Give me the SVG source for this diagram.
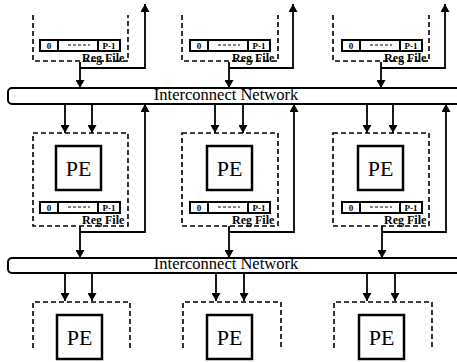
<svg xmlns="http://www.w3.org/2000/svg" width="457" height="362" viewBox="0 0 457 362">
<style>
.dash{fill:none;stroke:#000;stroke-width:1.6;stroke-dasharray:5,3}
.pe{fill:#fff;stroke:#000;stroke-width:2.5}
.rf{fill:#fff;stroke:#000;stroke-width:2}
.net{fill:#fff;stroke:#000;stroke-width:2}
.ln{fill:none;stroke:#000;stroke-width:1.8}
.t{font-family:"Liberation Serif",serif;fill:#000}
.pet{font-size:22px;text-anchor:middle}
.rt{font-size:9px;font-weight:bold;text-anchor:middle}
.rl{font-size:12px;font-weight:bold}
.nt{font-size:16.5px;text-anchor:middle}
</style>
<defs>
<marker id="ah" markerUnits="userSpaceOnUse" markerWidth="8" markerHeight="9" refX="8" refY="4.5" orient="auto">
<path d="M0,0 L8,4.5 L0,9 z" fill="#000"/>
</marker>
<g id="regfile">
<rect class="rf" x="40" y="0" width="80" height="11"/>
<line x1="58" y1="0" x2="58" y2="11" stroke="#000" stroke-width="2"/>
<line x1="98" y1="0" x2="98" y2="11" stroke="#000" stroke-width="2"/>
<text class="t rt" x="49" y="8.5">0</text>
<line x1="68" y1="5" x2="90" y2="5" stroke="#000" stroke-width="1" stroke-dasharray="3,2"/>
<text class="t rt" x="109" y="8.5">P-1</text>
<text class="t rl" x="82" y="22">Reg File</text>
</g>
</defs>

<g id="net1">
<rect class="net" x="8" y="88" width="470" height="16" rx="4"/>
<text class="t nt" x="226" y="100">Interconnect Network</text>
</g>
<g id="net2">
<rect class="net" x="8" y="258" width="470" height="15" rx="4"/>
<text class="t nt" x="226" y="269">Interconnect Network</text>
</g>

<g id="top1"><path class="dash" d="M33,15 V61 H128 V15"/><use href="#regfile" x="0" y="40"/></g>
<g id="top2"><path class="dash" d="M182,15 V61 H278 V15"/><use href="#regfile" x="150" y="40"/></g>
<g id="top3"><path class="dash" d="M333,15 V61 H429 V15"/><use href="#regfile" x="302" y="40"/></g>

<g id="mid1"><rect class="dash" x="33" y="133" width="95" height="93"/><rect class="pe" x="56" y="146" width="45" height="44"/><text class="t pet" x="78.5" y="176">PE</text><use href="#regfile" x="0" y="202"/></g>
<g id="mid2"><rect class="dash" x="182" y="133" width="96" height="93"/><rect class="pe" x="207" y="146" width="45" height="44"/><text class="t pet" x="229.5" y="176">PE</text><use href="#regfile" x="150" y="202"/></g>
<g id="mid3"><rect class="dash" x="333" y="133" width="96" height="93"/><rect class="pe" x="358" y="146" width="45" height="44"/><text class="t pet" x="380.5" y="176">PE</text><use href="#regfile" x="302" y="202"/></g>

<g id="bot1"><path class="dash" d="M33,348 V302 H130 V348"/><rect class="pe" x="57" y="315" width="45" height="44"/><text class="t pet" x="79.5" y="345">PE</text></g>
<g id="bot2"><path class="dash" d="M183,348 V302 H281 V348"/><rect class="pe" x="207" y="315" width="45" height="44"/><text class="t pet" x="229.5" y="345">PE</text></g>
<g id="bot3"><path class="dash" d="M334,348 V302 H432 V348"/><rect class="pe" x="359" y="315" width="45" height="44"/><text class="t pet" x="381.5" y="345">PE</text></g>

<g id="connectors">
<path class="ln" d="M80,62 V88" marker-end="url(#ah)"/>
<path class="ln" d="M80,68 H145 V4" marker-end="url(#ah)"/>
<path class="ln" d="M229,62 V88" marker-end="url(#ah)"/>
<path class="ln" d="M229,68 H293 V4" marker-end="url(#ah)"/>
<path class="ln" d="M381,62 V88" marker-end="url(#ah)"/>
<path class="ln" d="M381,68 H445 V4" marker-end="url(#ah)"/>

<path class="ln" d="M65,104 V133" marker-end="url(#ah)"/>
<path class="ln" d="M92,104 V133" marker-end="url(#ah)"/>
<path class="ln" d="M215,104 V133" marker-end="url(#ah)"/>
<path class="ln" d="M243,104 V133" marker-end="url(#ah)"/>
<path class="ln" d="M367,104 V133" marker-end="url(#ah)"/>
<path class="ln" d="M393,104 V133" marker-end="url(#ah)"/>

<path class="ln" d="M80,226 V258" marker-end="url(#ah)"/>
<path class="ln" d="M80,232 H145 V104" marker-end="url(#ah)"/>
<path class="ln" d="M229,226 V258" marker-end="url(#ah)"/>
<path class="ln" d="M229,232 H294 V104" marker-end="url(#ah)"/>
<path class="ln" d="M382,226 V258" marker-end="url(#ah)"/>
<path class="ln" d="M382,232 H446 V104" marker-end="url(#ah)"/>

<path class="ln" d="M65,273 V301" marker-end="url(#ah)"/>
<path class="ln" d="M92,273 V301" marker-end="url(#ah)"/>
<path class="ln" d="M216,273 V301" marker-end="url(#ah)"/>
<path class="ln" d="M244,273 V301" marker-end="url(#ah)"/>
<path class="ln" d="M367,273 V301" marker-end="url(#ah)"/>
<path class="ln" d="M395,273 V301" marker-end="url(#ah)"/>
</g>
</svg>
